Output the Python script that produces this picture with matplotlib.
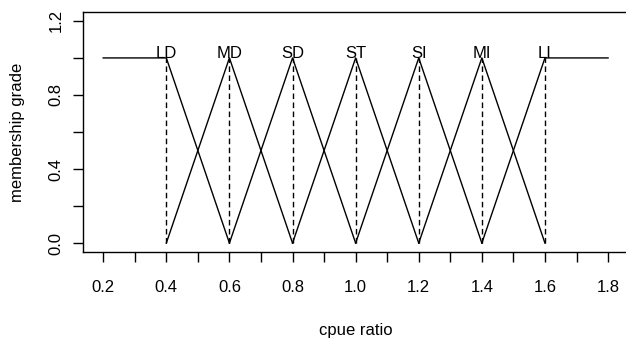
import matplotlib.pyplot as plt

plt.rcParams['font.family'] = ['Liberation Sans', 'DejaVu Sans']

# fuzzy sets of the cpue ratio
labels = ['LD', 'MD', 'SD', 'ST', 'SI', 'MI', 'LI']
centers = [0.4, 0.6, 0.8, 1.0, 1.2, 1.4, 1.6]
set_x = [[0.2, 0.4, 0.6],
         [0.4, 0.6, 0.8],
         [0.6, 0.8, 1.0],
         [0.8, 1.0, 1.2],
         [1.0, 1.2, 1.4],
         [1.2, 1.4, 1.6],
         [1.4, 1.6, 1.8]]
set_y = [[1, 1, 0],
         [0, 1, 0],
         [0, 1, 0],
         [0, 1, 0],
         [0, 1, 0],
         [0, 1, 0],
         [0, 1, 1]]

xticks = [0.2, 0.3, 0.4, 0.5, 0.6, 0.7, 0.8, 0.9, 1.0, 1.1, 1.2, 1.3, 1.4, 1.5, 1.6, 1.7, 1.8]
xticklabels = ['0.2', '', '0.4', '', '0.6', '', '0.8', '', '1.0', '', '1.2', '', '1.4', '', '1.6', '', '1.8']
yticks = [0.0, 0.2, 0.4, 0.6, 0.8, 1.0, 1.2]
yticklabels = ['0.0', '', '0.4', '', '0.8', '', '1.2']

fig = plt.figure(figsize=(6.26, 3.43), dpi=100)
ax = fig.add_axes([0.1326, 0.2653, 0.871, 0.6997])

for xs, ys in zip(set_x, set_y):
    ax.plot(xs, ys, color='black', lw=1.0)
for c, lab in zip(centers, labels):
    ax.plot([c, c], [0, 1], color='black', lw=1.0, ls=(0, (4, 2.5)))
    ax.text(c, 1.0, lab, ha='center', va='baseline', fontsize=12)

ax.set_xlim(0.136, 1.864)
ax.set_ylim(-0.048, 1.248)
ax.set_xticks(xticks)
ax.set_xticklabels(xticklabels)
ax.set_yticks(yticks)
ax.set_yticklabels(yticklabels, rotation=90, va='center')
ax.tick_params(axis='both', length=7, width=1.0, labelsize=12, direction='out')
ax.tick_params(axis='x', pad=13)
ax.tick_params(axis='y', pad=7)
for s in ax.spines.values():
    s.set_linewidth(1.0)

ax.set_xlabel('cpue ratio', fontsize=12, labelpad=20)
ax.set_ylabel('membership grade', fontsize=12, labelpad=17)

fig.savefig('out.png', dpi=100)
